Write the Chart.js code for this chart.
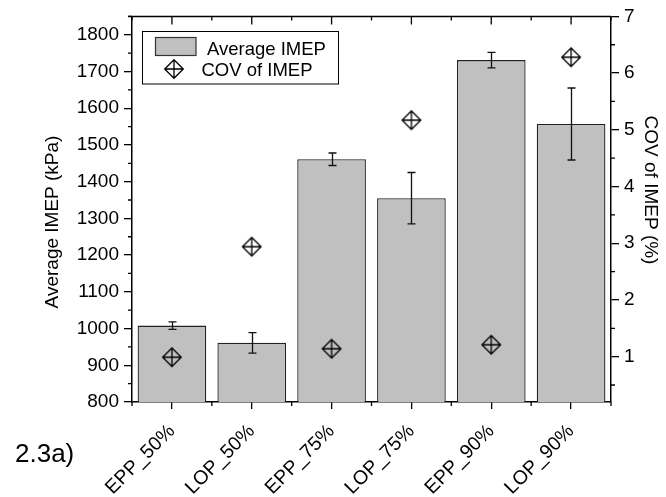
<!DOCTYPE html>
<html><head><meta charset="utf-8">
<script src="https://cdn.jsdelivr.net/npm/chart.js@4.4.1/dist/chart.umd.min.js"></script>
<style>
html,body{margin:0;padding:0;background:#fff;}
#wrap{position:relative;width:666px;height:497px;}
#fig{position:absolute;left:15px;top:440px;font:26px "Liberation Sans",Arial,sans-serif;color:#000;line-height:1;white-space:nowrap;}
</style></head><body>
<div id="wrap"><canvas id="c" width="666" height="497"></canvas><div id="fig">2.3a)</div></div>
<script>
// ---- data ----
const categories = ['EPP_50%', 'LOP_50%', 'EPP_75%', 'LOP_75%', 'EPP_90%', 'LOP_90%'];
const imepAvg = [1008, 961, 1461, 1355, 1731, 1557];
const imepErr = [10, 28, 17, 70, 21, 98];
const covImep = [0.99, 2.94, 1.14, 5.17, 1.21, 6.28];
const imepTicks = [800, 900, 1000, 1100, 1200, 1300, 1400, 1500, 1600, 1700, 1800];
const covTicks = [1, 2, 3, 4, 5, 6, 7];
const imepMinorTicks = [850, 950, 1050, 1150, 1250, 1350, 1450, 1550, 1650, 1750, 1850];
const covMinorTicks = [0.5, 1.5, 2.5, 3.5, 4.5, 5.5, 6.5];
const leftTitle = 'Average IMEP (kPa)';
const rightTitle = 'COV of IMEP (%)';

const FONT = '"Liberation Sans", Arial, sans-serif';

// diamond-with-cross marker
function makeMarker() {
  const c = document.createElement('canvas');
  c.width = 22; c.height = 22;
  const g = c.getContext('2d');
  const m = 11, h = 9.3;
  g.strokeStyle = '#000'; g.lineWidth = 1.3;
  g.beginPath();
  g.moveTo(m, m - h); g.lineTo(m + h, m); g.lineTo(m, m + h); g.lineTo(m - h, m); g.closePath();
  g.moveTo(m, m - h); g.lineTo(m, m + h);
  g.moveTo(m - h, m); g.lineTo(m + h, m);
  g.stroke();
  return c;
}
const marker = makeMarker();

const errPlugin = {
  id: 'errbars',
  afterDatasetDraw(chart, args) {
    if (args.index !== 0) return;
    const ctx = chart.ctx, x = chart.scales.x, y = chart.scales.y;
    ctx.save();
    ctx.strokeStyle = '#111'; ctx.lineWidth = 1.3;
    imepAvg.forEach((v, i) => {
      const px = Math.round(x.getPixelForValue(i)) + 0.5;
      const t = y.getPixelForValue(v + imepErr[i]);
      const b = y.getPixelForValue(v - imepErr[i]);
      ctx.beginPath();
      ctx.moveTo(px, t); ctx.lineTo(px, b);
      ctx.moveTo(px - 4, t); ctx.lineTo(px + 4, t);
      ctx.moveTo(px - 4, b); ctx.lineTo(px + 4, b);
      ctx.stroke();
    });
    ctx.restore();
  }
};

const framePlugin = {
  id: 'frame',
  afterDraw(chart) {
    const ctx = chart.ctx, a = chart.chartArea;
    const x = chart.scales.x, y = chart.scales.y, y1 = chart.scales.y1;
    ctx.save();
    ctx.strokeStyle = '#000';
    // top border
    ctx.lineWidth = 1.5;
    ctx.beginPath(); ctx.moveTo(a.left - 4, a.top); ctx.lineTo(a.right, a.top); ctx.stroke();
    ctx.lineWidth = 1.3;
    ctx.beginPath();
    // top inward ticks + boundary ticks
    categories.forEach((c, i) => {
      const px = x.getPixelForValue(i);
      ctx.moveTo(px, a.top); ctx.lineTo(px, a.top + 8);
    });
    for (let i = 0; i <= categories.length; i++) {
      const px = x.getPixelForValue(i - 0.5);
      ctx.moveTo(px, a.top); ctx.lineTo(px, a.top + 4);
      ctx.moveTo(px, a.bottom); ctx.lineTo(px, a.bottom + 4);
    }
    // minor ticks
    imepMinorTicks.forEach(v => {
      const py = y.getPixelForValue(v);
      ctx.moveTo(a.left - 4, py); ctx.lineTo(a.left, py);
    });
    covMinorTicks.forEach(v => {
      const py = y1.getPixelForValue(v);
      ctx.moveTo(a.right, py); ctx.lineTo(a.right + 4, py);
    });
    ctx.stroke();

    // axis titles
    ctx.fillStyle = '#000';
    ctx.font = '19px ' + FONT;
    ctx.textAlign = 'center'; ctx.textBaseline = 'middle';
    ctx.save(); ctx.translate(53, 222); ctx.rotate(-Math.PI / 2); ctx.fillText(leftTitle, 0, 0); ctx.restore();
    ctx.save(); ctx.translate(650, 190); ctx.rotate(Math.PI / 2); ctx.fillText(rightTitle, 0, 0); ctx.restore();

    // legend
    const ds = chart.data.datasets;
    ctx.lineWidth = 1;
    ctx.strokeStyle = '#000';
    ctx.strokeRect(142.5, 31.5, 196, 52.5);
    ctx.fillStyle = '#c0c0c0';
    ctx.fillRect(155.5, 37.5, 40.5, 18);
    ctx.strokeStyle = '#333'; ctx.lineWidth = 1.2;
    ctx.strokeRect(155.5, 37.5, 40.5, 18);
    ctx.drawImage(marker, 174 - 11, 69 - 11);
    ctx.fillStyle = '#000';
    ctx.font = '18.5px ' + FONT;
    ctx.textAlign = 'left'; ctx.textBaseline = 'alphabetic';
    ctx.fillText(ds[0].label, 207, 55);
    ctx.fillText(ds[1].label, 201.5, 76);
    ctx.restore();
  }
};

new Chart(document.getElementById('c'), {
  data: {
    labels: categories,
    datasets: [
      {
        type: 'bar', label: 'Average IMEP', data: imepAvg, yAxisID: 'y',
        backgroundColor: '#c0c0c0', borderColor: '#222', borderWidth: 1.3,
        barPercentage: 0.86, categoryPercentage: 1.0, order: 2
      },
      {
        type: 'line', label: 'COV of IMEP', data: covImep, yAxisID: 'y1',
        showLine: false, pointStyle: marker, pointRadius: 11, pointHoverRadius: 11, order: 1
      }
    ]
  },
  options: {
    responsive: false, animation: false, devicePixelRatio: 1,
    layout: { padding: { top: 16, left: 0, right: 0, bottom: 0 } },
    plugins: { legend: { display: false }, tooltip: { enabled: false } },
    scales: {
      x: {
        type: 'category', position: 'bottom', offset: true,
        grid: { display: true, drawOnChartArea: false, offset: false, tickLength: 7, tickColor: '#000', lineWidth: 1.3 },
        border: { display: true, color: '#000', width: 1.5 },
        ticks: { color: '#000', font: { size: 19.5, family: FONT }, minRotation: 45, maxRotation: 45, autoSkip: false, padding: 11 },
        afterFit(s) { s.height = 95; }
      },
      y: {
        type: 'linear', position: 'left', min: 800, max: 1850,
        grid: { display: true, drawOnChartArea: false, tickLength: 8, tickColor: '#000', lineWidth: 1.3 },
        border: { display: true, color: '#000', width: 1.5 },
        ticks: { color: '#000', font: { size: 19, family: FONT }, padding: 5, stepSize: 100, callback: v => String(v) },
        afterBuildTicks(s) { s.ticks = imepTicks.map(v => ({ value: v })); },
        afterFit(s) { s.width = 132; }
      },
      y1: {
        type: 'linear', position: 'right', min: 0.2, max: 7,
        grid: { display: true, drawOnChartArea: false, tickLength: 8, tickColor: '#000', lineWidth: 1.3 },
        border: { display: true, color: '#000', width: 1.5 },
        ticks: { color: '#000', font: { size: 19, family: FONT }, padding: 5, stepSize: 1, callback: v => String(v) },
        afterBuildTicks(s) { s.ticks = covTicks.map(v => ({ value: v })); },
        afterFit(s) { s.width = 55; }
      }
    }
  },
  plugins: [errPlugin, framePlugin]
});
</script>
</body></html>
